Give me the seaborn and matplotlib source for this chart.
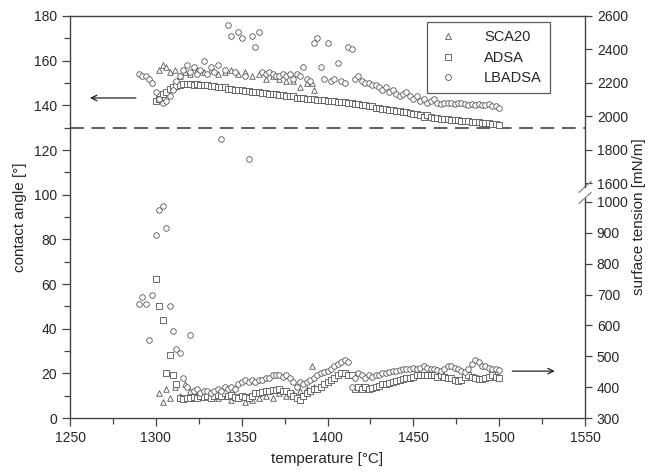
import numpy as np
import pandas as pd
import seaborn as sns
import matplotlib.pyplot as plt
from matplotlib.lines import Line2D

# measurement temperatures [°C]
temp = [1290, 1292, 1294, 1296, 1298, 1300, 1302, 1304, 1306, 1308,
        1310, 1312, 1314, 1316, 1318, 1320, 1322, 1324, 1326, 1328,
        1330, 1332, 1334, 1336, 1338, 1340, 1342, 1344, 1346, 1348,
        1350, 1352, 1354, 1356, 1358, 1360, 1362, 1364, 1366, 1368,
        1370, 1372, 1374, 1376, 1378, 1380, 1382, 1384, 1386, 1388,
        1390, 1392, 1394, 1396, 1398, 1400, 1402, 1404, 1406, 1408,
        1410, 1412, 1414, 1416, 1418, 1420, 1422, 1424, 1426, 1428,
        1430, 1432, 1434, 1436, 1438, 1440, 1442, 1444, 1446, 1448,
        1450, 1452, 1454, 1456, 1458, 1460, 1462, 1464, 1466, 1468,
        1470, 1472, 1474, 1476, 1478, 1480, 1482, 1484, 1486, 1488,
        1490, 1492, 1494, 1496, 1498, 1500]

# LBADSA, all temperatures
lbadsa_angle = [154, 153, 153, 152, 150, 146, 143, 141, 142, 144,
                147, 151, 153, 156, 158, 155, 157, 154, 156, 160,
                154, 157, 155, 158, 125, 156, 176, 171, 155, 173,
                170, 153, 116, 171, 166, 173, 155, 154, 155, 154,
                153, 153, 154, 153, 154, 152, 154, 153, 157, 152,
                151, 168, 170, 157, 152, 168, 151, 152, 159, 151,
                150, 166, 165, 152, 153, 151, 150, 150, 149, 149,
                148, 147, 148, 146, 147, 145, 144, 145, 146, 144,
                143, 144, 142, 143, 141, 142, 143, 141, 140.5, 141,
                141, 141, 140.5, 141, 141, 140.5, 140, 140.5, 140, 140.5,
                140, 140, 140.5, 139.5, 139.5, 139]
lbadsa_tension = [669, 691, 669, 553, 698, 894, 973, 988, 915, 662,
                  582, 524, 510, 430, 401, 568, 387, 394, 380, 387,
                  387, 380, 387, 394, 387, 401, 394, 401, 394, 409,
                  416, 423, 416, 423, 416, 423, 423, 430, 430, 438,
                  438, 438, 434, 438, 430, 416, 401, 416, 409, 416,
                  423, 430, 438, 445, 448, 452, 459, 467, 474, 481,
                  488, 481, 401, 430, 445, 438, 430, 438, 434, 438,
                  441, 445, 445, 448, 452, 452, 456, 459, 459, 459,
                  463, 459, 463, 467, 463, 459, 459, 456, 452, 459,
                  467, 470, 463, 459, 452, 448, 459, 474, 488, 481,
                  467, 467, 463, 459, 459, 456]

# ADSA, from 1300 °C on
adsa_angle = [142, 143, 145, 146, 147.5, 148, 148.5, 149, 149.5, 149.5,
              149.5, 149, 149.5, 149, 149, 149, 148.5, 148.5, 148, 148,
              148, 147.5, 147.5, 147, 147, 147, 146.5, 146.5, 146, 146,
              146, 145.5, 145.5, 145, 145, 145, 144.5, 144.5, 144, 144,
              144, 143.5, 143.5, 143.5, 143, 143, 143, 142.5, 142.5, 142.5,
              142, 142, 142, 141.5, 141.5, 141.5, 141, 141, 140.5, 140.5,
              140, 140, 139.5, 139.5, 139, 139, 138.5, 138.5, 138, 138,
              137.5, 137.5, 137, 137, 136.5, 136, 136, 135.5, 135, 135.5,
              135, 134.5, 134.5, 134, 134, 134, 133.5, 133.5, 133.5, 133,
              133, 133, 132.5, 132.5, 132.5, 132, 132, 132, 131.5, 131.5,
              131]
adsa_tension = [749, 662, 619, 445, 503, 438, 409, 365, 362, 365,
                365, 369, 365, 372, 369, 372, 365, 372, 376, 372,
                380, 372, 376, 369, 365, 372, 369, 365, 372, 380,
                380, 383, 387, 387, 390, 390, 394, 387, 387, 380,
                372, 365, 358, 372, 380, 387, 394, 394, 401, 409,
                416, 423, 430, 438, 445, 445, 441, 438, 394, 401,
                394, 401, 394, 398, 401, 405, 409, 409, 412, 416,
                419, 423, 427, 430, 430, 434, 438, 438, 438, 441,
                438, 438, 434, 438, 434, 430, 430, 423, 419, 423,
                434, 438, 434, 430, 427, 427, 430, 434, 438, 434,
                430]

# SCA20
sca_temp = [1302, 1304, 1306, 1308, 1311, 1314, 1317, 1320, 1324, 1328,
            1332, 1336, 1340, 1344, 1348, 1352, 1356, 1360, 1364, 1368,
            1372, 1376, 1380, 1384, 1388, 1391, 1392]
sca_angle = [156, 158, 157, 155, 156, 153, 155, 154, 156, 155,
             156, 154, 155, 156, 154, 155, 153, 154, 152, 153,
             152, 151, 151, 148, 150, 150, 147]
sca_tension = [380, 351, 394, 365, 401, 372, 409, 387, 365, 380,
               372, 365, 372, 358, 365, 351, 358, 365, 372, 365,
               380, 372, 380, 387, 394, 467, 401]

tension_ticks = [300, 400, 500, 600, 700, 800, 900, 1000,
                 1600, 1800, 2000, 2200, 2400, 2600]


def tension_to_angle(st):
    # broken right scale: 300-1000 in the lower part, 1600-2600 on top
    st = np.asarray(st, dtype=float)
    return np.where(st <= 1000, (st - 300) * 0.1382, 105.2 + (st - 1600) * 0.0748)


n_ad = len(adsa_angle)
frames = [
    pd.DataFrame({'temp': sca_temp, 'y': sca_angle, 'method': 'SCA20'}),
    pd.DataFrame({'temp': sca_temp, 'y': tension_to_angle(sca_tension), 'method': 'SCA20'}),
    pd.DataFrame({'temp': temp[-n_ad:], 'y': adsa_angle, 'method': 'ADSA'}),
    pd.DataFrame({'temp': temp[-n_ad:], 'y': tension_to_angle(adsa_tension), 'method': 'ADSA'}),
    pd.DataFrame({'temp': temp, 'y': lbadsa_angle, 'method': 'LBADSA'}),
    pd.DataFrame({'temp': temp, 'y': tension_to_angle(lbadsa_tension), 'method': 'LBADSA'}),
]
df = pd.concat(frames, ignore_index=True)

sns.set_style('ticks')
plt.rcParams['font.family'] = ['Liberation Sans', 'DejaVu Sans']
plt.rcParams['font.size'] = 10

edge = '#555555'
markers = {'SCA20': '^', 'ADSA': 's', 'LBADSA': 'o'}

fig = plt.figure(figsize=(6.5, 4.76), dpi=100)
ax = fig.add_axes([0.1077, 0.1218, 0.7923, 0.8446])

for m in ['SCA20', 'ADSA', 'LBADSA']:
    sns.scatterplot(data=df[df['method'] == m], x='temp', y='y', marker=markers[m],
                    s=16, color='white', edgecolor=edge, linewidth=0.6, ax=ax, zorder=3)

ax.axhline(130, color='#333333', lw=1.1, dashes=(9, 5), zorder=2)

ax.set_xlim(1250, 1550)
ax.set_ylim(0, 180)
ax.set_xticks(np.arange(1250, 1551, 50))
ax.set_xticks(np.arange(1275, 1550, 50), minor=True)
ax.set_yticks(np.arange(0, 181, 20))
ax.set_yticks(np.arange(10, 180, 20), minor=True)
ax.tick_params(which='major', length=6, width=0.9, color='#444', labelsize=10, direction='out')
ax.tick_params(which='minor', length=4, width=0.9, color='#444', direction='out')
ax.set_xlabel('temperature [°C]', fontsize=11, labelpad=5)
ax.set_ylabel('contact angle [°]', fontsize=11, labelpad=5)

ax2 = ax.twinx()
ax2.set_ylim(0, 180)
ax2.set_yticks(tension_to_angle(tension_ticks))
ax2.set_yticklabels([str(t) for t in tension_ticks])
ax2.tick_params(length=5, width=0.9, color='#444', labelsize=10, direction='out')
ax2.set_ylabel('surface tension [mN/m]', fontsize=11, labelpad=3)

for a in (ax, ax2):
    for s in a.spines.values():
        s.set_color('#444')
        s.set_linewidth(1.0)
# broken right spine
ax.spines['right'].set_bounds(0, 98.5)
ax2.spines['right'].set_bounds(103.5, 180)
ax2.spines['left'].set_visible(False)
ax2.spines['top'].set_visible(False)
ax2.spines['bottom'].set_visible(False)
brk = ax2.get_yaxis_transform()
for yb in (98.5, 103.5):
    ax2.plot([0.988, 1.012], [yb - 2.5, yb + 2.5], transform=brk, color='#888',
             lw=0.9, clip_on=False)

# arrows pointing to the relevant axis
ax.annotate('', xy=(1260, 143.3), xytext=(1290, 143.3),
            arrowprops=dict(arrowstyle='->', color='#222', lw=0.9))
ax.annotate('', xy=(1534, 21), xytext=(1506, 21),
            arrowprops=dict(arrowstyle='->', color='#222', lw=0.9))

handles = [Line2D([], [], ls='', marker=markers[m], ms=4.2, mfc='white', mec=edge, mew=0.6)
           for m in ['SCA20', 'ADSA', 'LBADSA']]
leg = ax.legend(handles, ['SCA20', 'ADSA', 'LBADSA'], loc='upper right',
                bbox_to_anchor=(0.932, 0.985), frameon=True, fancybox=False,
                edgecolor='#333', fontsize=10.5, handletextpad=1.6, handlelength=1.8,
                borderpad=0.55, labelspacing=0.45, borderaxespad=0)
leg.get_frame().set_linewidth(0.9)

fig.savefig('out.png', dpi=100)
